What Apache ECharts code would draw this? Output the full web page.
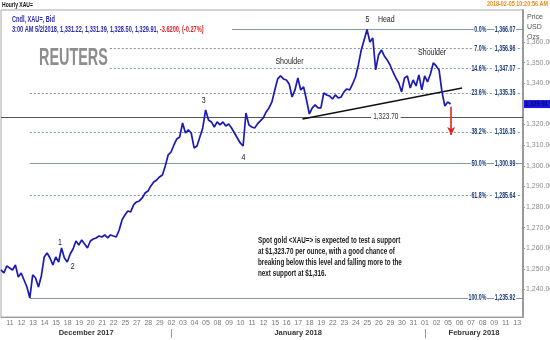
<!DOCTYPE html>
<html>
<head>
<meta charset="utf-8">
<script src="https://cdn.jsdelivr.net/npm/echarts@6/dist/echarts.min.js"></script>
<style>
  html, body { margin: 0; padding: 0; background: #fff; }
  #chart { width: 550px; height: 340px; }
</style>
</head>
<body>
<div id="chart"></div>
<script>
// Trading-day labels along the time axis (one per session)
const dayLabels = ['11','12','13','14','15','18','19','20','21','22','25','27','28','29',
  '02','03','04','05','08','09','10','11','12','15','16','17','18','19','22','23','24','25','26','29','30','31',
  '01','02','05','06','07','08','09','11','13'];
const monthNames = ['December 2017', 'January 2018', 'February 2018'];
const monthStarts = [14, 36];            // first session index of Jan and Feb

// Spot gold closes, one every quarter session
const priceStart = -0.78;
const priceStep = 0.25;
const closes = [
  1249.50,1248.04,1251.43,1250.47,1249.50,1251.91,1246.11,1248.04,1244.65,1241.26,
  1235.92,1247.08,1245.62,1241.26,1246.59,1255.80,1257.74,1255.32,1251.91,1255.80,
  1253.37,1260.16,1255.32,1253.37,1257.25,1259.68,1263.55,1261.62,1264.04,1262.10,
  1260.16,1263.55,1264.53,1265.01,1265.98,1265.50,1266.47,1265.01,1266.47,1265.98,
  1265.50,1268.89,1273.74,1276.16,1278.10,1277.62,1281.01,1282.46,1282.95,1284.40,
  1286.82,1287.79,1290.22,1292.15,1293.12,1294.58,1295.55,1299.91,1305.24,1306.69,
  1310.09,1312.99,1313.96,1320.75,1315.90,1317.36,1315.90,1308.63,1309.60,1313.96,
  1318.33,1327.05,1322.21,1321.24,1318.81,1321.24,1319.78,1321.24,1319.30,1320.27,
  1318.33,1315.90,1313.48,1311.06,1309.60,1325.60,1319.80,1318.81,1318.33,1320.27,
  1321.72,1323.17,1326.08,1328.02,1330.93,1336.75,1342.08,1343.53,1342.08,1341.59,
  1339.65,1333.35,1336.75,1342.56,1336.75,1338.20,1331.90,1325.11,1328.02,1329.48,
  1328.02,1328.02,1335.29,1334.32,1333.84,1332.38,1334.32,1332.87,1333.35,1335.78,
  1337.23,1336.75,1339.65,1343.05,1348.86,1356.13,1360.98,1366.07,1360.01,1361.95,
  1346.44,1353.71,1356.13,1353.23,1351.29,1348.86,1345.47,1342.56,1340.14,1335.78,
  1342.56,1343.53,1337.72,1341.59,1338.68,1344.02,1336.75,1343.53,1340.62,1344.50,
  1349.83,1348.38,1346.44,1335.78,1328.99,1330.93,1329.91
];

// Last bar summary
const lastBarTime = '3:00 AM 5/2/2018';
const lastBarOHLC = [1331.22, 1331.39, 1328.50, 1329.91];
const lastChange = -3.62;
const lastChangePct = -0.27;

// Fibonacci retracement of the Dec low -> Jan high move
const fibPct = ['0.0%', '7.0%', '14.6%', '23.6%', '38.2%', '50.0%', '61.8%', '100.0%'];
const fibPrice = [1366.07, 1356.96, 1347.07, 1335.35, 1316.35, 1300.99, 1285.64, 1235.92];
const fibSolid = [true, false, false, false, false, true, false, true];

const supportLevel = 1323.70;
const supportLabelAt = 32.6;
const neckline = [[25.37, 1322.69], [39.22, 1337.71]];
const targetArrow = [[38.27, 1328.65], [38.27, 1314.93]];

const waveNames = ['1', '2', '3', '4', '5', 'Head', 'Shoulder', 'Shoulder'];
const wavePoints = [[4.33, 1262.6], [5.45, 1251.4], [16.8, 1331.4], [20.26, 1303.8],
  [31.0, 1370.7], [32.64, 1370.7], [24.24, 1350.3], [36.62, 1354.7]];

const priceTicks = [1240, 1250, 1260, 1270, 1280, 1290, 1300, 1310, 1320, 1330, 1340, 1350, 1360];

const noteLines = [
  'Spot gold <XAU=> is expected to test a support',
  'at $1,323.70 per ounce, with a good chance of',
  'breaking below this level and falling more to the',
  'next support at $1,316.'
];

const X_MIN = -0.78, X_MAX = 44.5;
const Y_MIN = 1226.7, Y_MAX = 1375.5;
const SANS = '"Liberation Sans", Arial, sans-serif';

const fmt2 = v => v.toLocaleString('en-US', { minimumFractionDigits: 2, maximumFractionDigits: 2 });

const series = closes.map((v, i) => [priceStart + i * priceStep, v]);
const lowIdx = closes.indexOf(Math.min(...closes));
const fibStart = priceStart + lowIdx * priceStep;
const lastClose = closes[closes.length - 1];

const monthBounds = [X_MIN, ...monthStarts, X_MAX];
const monthCenters = monthNames.map((_, i) => (monthBounds[i] + monthBounds[i + 1]) / 2);

// Horizontal levels and trend lines
const lines = [];
fibPrice.forEach((p, i) => {
  lines.push([
    { coord: [fibStart, p], lineStyle: { color: fibSolid[i] ? '#8797ab' : '#7f92ad', width: 1, type: fibSolid[i] ? 'solid' : [2, 2] } },
    { coord: [X_MAX, p] }
  ]);
});
lines.push([
  { coord: [X_MIN, supportLevel], lineStyle: { color: '#555', width: 1, type: 'solid' } },
  { coord: [X_MAX, supportLevel] }
]);
lines.push([
  { coord: neckline[0], lineStyle: { color: '#111', width: 1.6, type: 'solid' } },
  { coord: neckline[1] }
]);

const chart = echarts.init(document.getElementById('chart'), null, { renderer: 'canvas' });
chart.setOption({
  animation: false,
  backgroundColor: '#fff',
  grid: {
    left: 1, right: 27, top: 10, bottom: 23,
    outerBoundsMode: 'none', containLabel: false,
    show: true, borderColor: '#a8a8a8', borderWidth: 1
  },
  xAxis: [
    {
      type: 'value', min: X_MIN, max: X_MAX, position: 'bottom',
      axisLine: { show: true, onZero: false, lineStyle: { color: '#999' } },
      axisTick: { show: false },
      splitLine: { show: false },
      axisLabel: {
        customValues: dayLabels.map((_, i) => i),
        formatter: v => dayLabels[Math.round(v)],
        color: '#777', fontSize: 7, fontFamily: SANS, margin: 3
      }
    },
    {
      type: 'value', min: X_MIN, max: X_MAX, position: 'bottom', offset: 12,
      axisLine: { show: false, onZero: false },
      axisTick: { show: true, customValues: monthStarts, length: 9, lineStyle: { color: '#999' } },
      splitLine: { show: false },
      axisLabel: {
        customValues: monthCenters,
        formatter: v => monthNames[monthCenters.findIndex(c => Math.abs(c - v) < 1e-6)],
        color: '#333', fontSize: 7.5, fontWeight: 'bold', fontFamily: SANS, margin: 0
      }
    }
  ],
  yAxis: {
    type: 'value', position: 'right', min: Y_MIN, max: Y_MAX,
    axisLine: { show: true, onZero: false, lineStyle: { color: '#9a9a9a', width: 2 } },
    axisTick: { show: true, customValues: priceTicks, length: 2, lineStyle: { color: '#999' } },
    splitLine: { show: false },
    axisLabel: {
      customValues: priceTicks, formatter: v => fmt2(v),
      color: '#8c8c8c', fontSize: 7, fontFamily: SANS, margin: 3
    }
  },
  series: [
    {
      type: 'line',
      data: series,
      showSymbol: false,
      lineStyle: { color: '#1a1ab4', width: 1.7 },
      z: 5,
      markLine: { silent: true, symbol: ['none', 'none'], animation: false, label: { show: false }, data: lines, z: 3 }
    },
    {
      // projected move below the neckline
      type: 'line', data: [], z: 6,
      itemStyle: { color: '#e3241b' },
      markLine: {
        silent: true, animation: false, symbol: ['none', 'arrow'], symbolSize: [6, 8],
        label: { show: false },
        lineStyle: { color: '#e3241b', width: 1.6, type: 'solid' },
        data: [[{ coord: targetArrow[0] }, { coord: targetArrow[1] }]]
      }
    }
  ]
});

// Text annotations placed through the chart's own coordinate conversion
const px = (x, y) => chart.convertToPixel({ xAxisIndex: 0, yAxisIndex: 0 }, [x, y]);
const narrowText = (x, y, text, font, fill, sx, align, extra) => ({
  type: 'text', x: x, y: y, scaleX: sx, originX: 0, originY: 0, z: 20,
  style: Object.assign({ text: text, font: font, fill: fill, align: align || 'left', verticalAlign: 'middle' }, extra || {})
});

const g = [];
const rightEdge = px(X_MAX, Y_MIN)[0];

// header strip
g.push(narrowText(2, 5, 'Hourly XAU=', 'bold 7px ' + SANS, '#111', 0.72, 'left'));
g.push(narrowText(548, 4, '2018-02-05 10:20:56 AM', 'bold 8px ' + SANS, '#ea8a1c', 0.68, 'right'));
g.push({ type: 'text', x: 527, y: 12, z: 20, style: { text: 'Price\nUSD\nOzs', fill: '#555', font: '7px ' + SANS, lineHeight: 10 } });
g.push({ type: 'rect', shape: { x: 2, y: 14, width: 230, height: 22 }, style: { fill: '#fff' }, z: 10 });
g.push(narrowText(12, 20, 'Cndl, XAU=, Bid', 'bold 8.5px ' + SANS, '#2a2ab0', 0.66, 'left'));
g.push({
  type: 'text', x: 12, y: 30, scaleX: 0.66, originX: 0, originY: 0, z: 20,
  style: {
    text: '{b|' + lastBarTime + ', ' + lastBarOHLC.map(fmt2).join(', ') + ', }{r|' +
      lastChange.toFixed(4) + ', (' + lastChangePct.toFixed(2) + '%)}',
    verticalAlign: 'middle',
    rich: {
      b: { fill: '#2a2ab0', font: 'bold 8.5px ' + SANS },
      r: { fill: '#e02020', font: 'bold 8.5px ' + SANS }
    }
  }
});

// logo
g.push({ type: 'rect', shape: { x: 2, y: 38, width: 106, height: 38 }, style: { fill: '#fff' }, z: 10 });
const dots = [];
[[4, 7, 1.0], [8, 12, 1.3], [12, 16, 1.6], [16, 20, 1.9]].forEach(([r, n, s]) => {
  for (let k = 0; k < n; k++) {
    const a = (k / n) * Math.PI * 2 + r * 0.1;
    dots.push({ type: 'circle', shape: { cx: 21 + r * Math.cos(a), cy: 58 + r * Math.sin(a), r: s }, style: { fill: '#f08a22' } });
  }
});
g.push({ type: 'group', z: 11, children: dots });
g.push(narrowText(39, 58, 'REUTERS', 'bold 24px ' + SANS, '#8d8d8d', 0.6, 'left'));

// fibonacci labels
fibPrice.forEach((p, i) => {
  const y = px(X_MAX, p)[1];
  const lab = { backgroundColor: '#fff', padding: [0, 1] };
  g.push(narrowText(rightEdge - 7, y, fmt2(p), 'bold 8.5px ' + SANS, '#1d3c78', 0.62, 'right', lab));
  g.push(narrowText(rightEdge - 36, y, fibPct[i], 'bold 8.5px ' + SANS, '#1d3c78', 0.62, 'right', lab));
});

// support label
const sp = px(supportLabelAt, supportLevel);
g.push(narrowText(sp[0], sp[1], fmt2(supportLevel), '9px ' + SANS, '#333', 0.72, 'center', { backgroundColor: '#fff', padding: [0, 3] }));

// wave and pattern labels
waveNames.forEach((n, i) => {
  const p = px(wavePoints[i][0], wavePoints[i][1]);
  g.push(narrowText(p[0], p[1], n, '9px ' + SANS, '#222', 0.78, 'center'));
});

// last price tag on the axis
const ly = px(X_MAX, lastClose)[1];
g.push({ type: 'rect', z: 20, shape: { x: rightEdge + 1, y: ly - 4, width: 27, height: 8 }, style: { fill: '#1717ee' } });
g.push(narrowText(rightEdge + 2, ly, fmt2(lastClose), '7px ' + SANS, '#000018', 0.85, 'left'));

// commentary
noteLines.forEach((t, i) => {
  g.push(narrowText(258, 241 + i * 11, t, 'bold 9px ' + SANS, '#1a1a1a', 0.7, 'left'));
});

chart.setOption({ graphic: g });
</script>
</body>
</html>
